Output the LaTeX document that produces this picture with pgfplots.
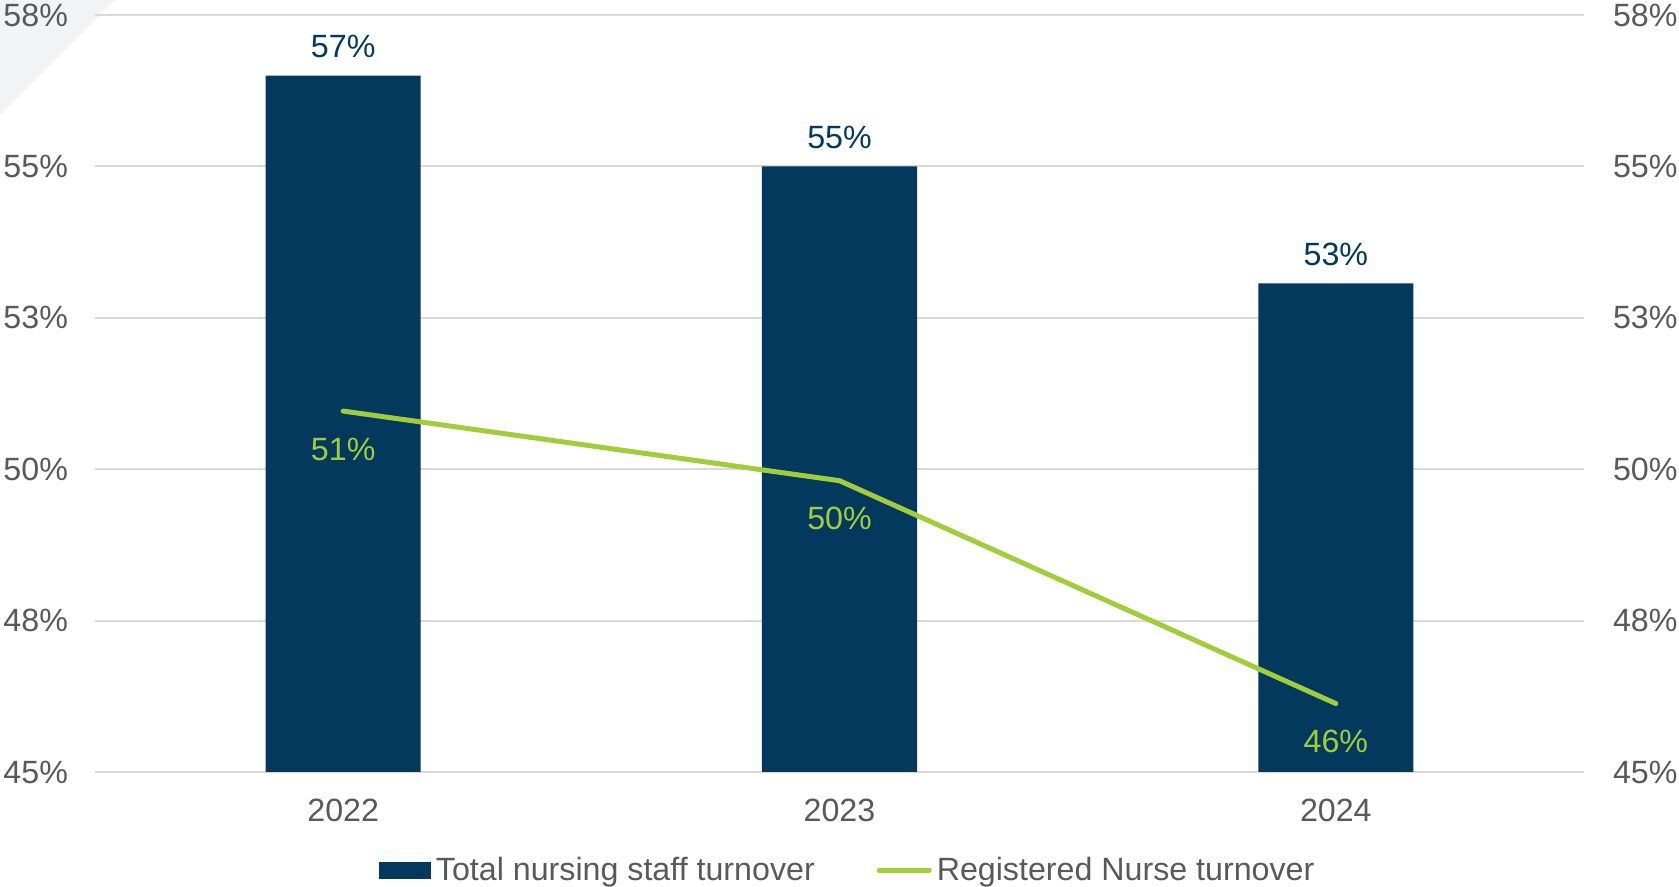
\documentclass[border=0pt]{standalone}
\usepackage{fontspec}
\setmainfont{Liberation Sans}
\usepackage{pgfplots}
\pgfplotsset{compat=1.18}
\definecolor{navyc}{HTML}{03395C}
\definecolor{greenc}{HTML}{A2CD3A}
\definecolor{tickc}{HTML}{595959}
\definecolor{gridc}{HTML}{D9D9D9}
\definecolor{bgtri}{HTML}{F2F3F5}
\newcommand{\fs}{\fontsize{16.1}{19}\selectfont}
\begin{document}
\begin{tikzpicture}
\path[use as bounding box] (0,0) rectangle (839.5pt,443.5pt);
\fill[bgtri] (0,443.5pt) -- (57.5pt,443.5pt) -- (0,386pt) -- cycle;
\begin{axis}[
  at={(47.5pt,57.5pt)}, anchor=south west,
  scale only axis, width=744.5pt, height=378.5pt,
  xmin=-0.5, xmax=2.5, ymin=45, ymax=57.5,
  xtick={0,1,2}, xticklabels={2022,2023,2024},
  ytick={45,47.5,50,52.5,55,57.5},
  yticklabels={45\%,48\%,50\%,53\%,55\%,58\%},
  axis line style={draw=none},
  major tick length=0pt,
  ymajorgrids, grid style={gridc, line width=1pt},
  font=\fs,
  tick label style={font=\fs, text=tickc},
  yticklabel style={xshift=-10pt},
  xticklabel style={yshift=-10pt},
  legend style={at={(0.5065,-0.1295)}, anchor=center, draw=none, fill=none,
    legend columns=2, font=\fs, text=tickc,
    nodes={inner xsep=2.5pt, inner ysep=0pt},
    /tikz/every even column/.append style={column sep=28.5pt}},
  clip=true,
]
\addplot[ybar, bar width=0.3125, fill=navyc, draw=none,
  point meta=explicit symbolic,
  nodes near coords, every node near coord/.append style={text=navyc, anchor=center, yshift=14.5pt, font=\fs},
  legend image code/.code={\fill[navyc] (0pt,-4.25pt) rectangle (26pt,4.25pt);}]
  coordinates {(0,56.5) [57\%] (1,55) [55\%] (2,53.07) [53\%]};
\addlegendentry{Total nursing staff turnover}
\addplot[greenc, line width=2.5pt, line cap=round, line join=round, mark=none,
  point meta=explicit symbolic,
  nodes near coords, every node near coord/.append style={text=greenc, anchor=center, yshift=-19pt, font=\fs},
  legend image code/.code={\draw[greenc, line width=2.5pt, line cap=round] (1.25pt,0pt) -- (26.25pt,0pt);}]
  coordinates {(0,50.96) [51\%] (1,49.81) [50\%] (2,46.13) [46\%]};
\addlegendentry{Registered Nurse turnover}
\end{axis}
\begin{axis}[
  at={(47.5pt,57.5pt)}, anchor=south west,
  scale only axis, width=744.5pt, height=378.5pt,
  xmin=-0.5, xmax=2.5, ymin=45, ymax=57.5,
  hide x axis,
  yticklabel pos=right,
  ytick={45,47.5,50,52.5,55,57.5},
  yticklabels={45\%,48\%,50\%,53\%,55\%,58\%},
  axis line style={draw=none},
  major tick length=0pt,
  tick label style={font=\fs, text=tickc},
  yticklabel style={xshift=11pt},
]
\addplot[draw=none, forget plot] coordinates {(0,50)};
\end{axis}
\end{tikzpicture}
\end{document}
